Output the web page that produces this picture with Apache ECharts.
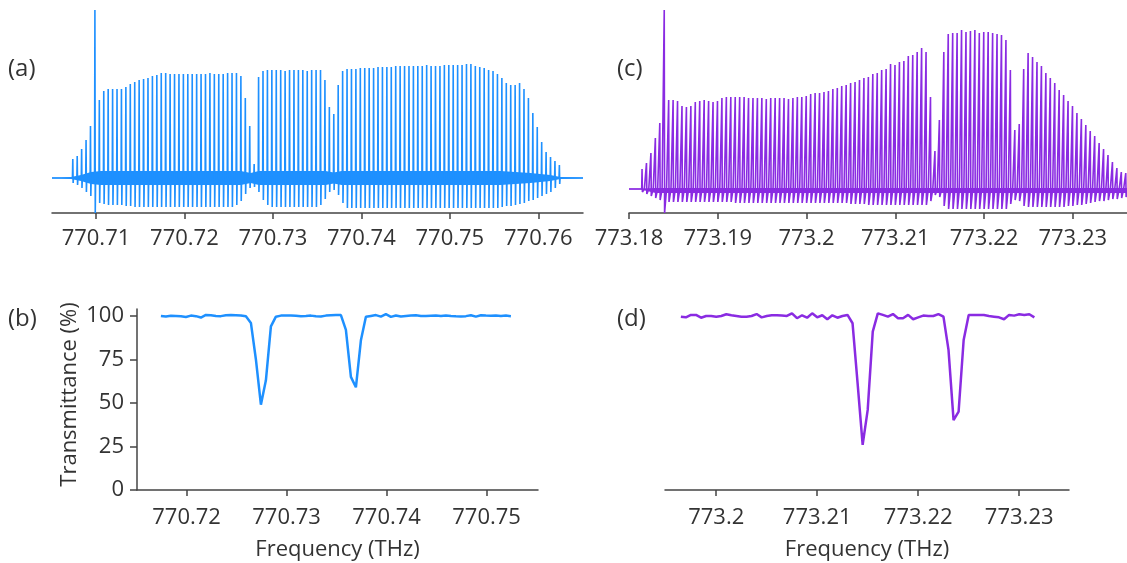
<!DOCTYPE html>
<html>
<head>
<meta charset="utf-8">
<script src="https://cdn.jsdelivr.net/npm/echarts@6.0.0/dist/echarts.min.js"></script>
<style>
html,body{margin:0;padding:0;background:#fff;}
#chart{width:1127px;height:563px;}
</style>
</head>
<body>
<div id="chart"></div>
<script>
// ---------------- DATA ----------------
// Panel (a): comb teeth (arbitrary units, 0 = baseline)
const combStepA = 0.0005;          // THz, tooth spacing
const combStartA = 770.70738;      // THz, first tooth
const topA = [
  19,22,29,38,52,168,78,87,89,89,
  89,89,91,94,96,98,99,100,102,103,
  105,105,104,104,104,104,104,104,104,104,
  104,105,104,104,104,105,105,105,102,80,
  52,14,101,107,108,108,108,108,107,108,
  108,108,108,107,108,108,108,98,71,64,
  93,107,109,109,109,110,110,110,110,111,
  111,111,111,112,112,112,112,112,112,112,
  113,112,112,112,113,113,113,113,113,114,
  114,112,111,110,108,107,104,100,95,93,
  93,95,89,80,65,51,36,26,21,17,13
];
const botA = [
  -5,-7,-10,-14,-18,-35,-25,-26,-27,-27,
  -27,-27,-28,-28,-29,-29,-29,-29,-29,-29,
  -29,-29,-29,-29,-29,-29,-29,-29,-29,-29,
  -29,-29,-29,-29,-29,-29,-29,-27,-23,-16,
  -10,-9,-14,-22,-27,-29,-29,-29,-29,-29,
  -29,-29,-29,-29,-29,-29,-27,-21,-14,-12,
  -17,-25,-30,-30,-30,-30,-30,-30,-30,-30,
  -30,-30,-30,-30,-30,-30,-30,-30,-30,-30,
  -30,-30,-30,-30,-30,-30,-30,-30,-30,-30,
  -30,-30,-30,-30,-30,-30,-30,-29,-28,-28,
  -27,-26,-25,-23,-22,-20,-18,-16,-14,-10,-6
];
// noise band envelope of (a)
const bandFreqA = [770.70503,770.70605,770.70718,770.70831,770.70944,770.71056,770.72637,770.72749,770.72840,770.73596,770.73687,770.73777,770.75571,770.75910,770.76135,770.76248,770.76505];
const bandHalfA = [0.6,0.6,1,3,6,7,7,5,7,7,5.5,7,7,5,3,1,0.6];

// Panel (c): comb teeth
const combStepC = 0.0005;
const combStartC = 773.18147;
const topC = [
  20,26,36,51,66,179,89,89,88,83,
  82,83,87,88,89,88,87,88,91,92,
  92,92,92,92,91,91,91,91,90,91,
  91,91,91,90,91,92,92,93,95,96,
  96,97,98,100,101,103,104,106,107,109,
  111,112,115,116,119,120,125,124,127,128,
  133,134,137,141,137,92,38,69,137,155,
  156,156,159,157,158,159,156,157,157,156,
  155,154,149,119,59,65,120,136,132,127,
  123,116,111,106,99,94,88,83,76,70,
  64,58,53,46,40,34,27,21,17,16
];
const botC = [
  -3,-5,-7,-9,-11,-24,-13,-13,-13,-13,
  -13,-13,-13,-13,-13,-13,-13,-13,-13,-13,
  -13,-14,-14,-14,-14,-14,-14,-14,-14,-14,
  -14,-14,-14,-14,-14,-14,-14,-14,-14,-14,
  -14,-14,-14,-14,-14,-14,-14,-15,-15,-15,
  -15,-16,-16,-16,-16,-16,-16,-16,-16,-16,
  -16,-16,-16,-16,-16,-12,-6,-8,-17,-20,
  -20,-20,-20,-20,-20,-20,-20,-20,-20,-20,
  -20,-20,-20,-15,-11,-12,-17,-18,-18,-18,
  -18,-18,-18,-18,-18,-18,-17,-17,-16,-16,
  -15,-14,-13,-12,-12,-11,-10,-10,-9,-8
];
// thin base band of (c)
const bandFreqC = [773.18,773.1813,773.1830,773.2361];
const bandHiC = [0.5,0.5,1,1];
const bandLoC = [-0.5,-0.5,-4,-4];

// Panel (b): transmittance (%)
const stepB = 0.0005;
const startB = 770.71743;
const transB = [
  100.0,99.7,100.1,100.0,99.8,99.4,100.2,99.9,99.1,100.6,
  100.4,100.0,99.9,100.4,100.5,100.4,100.3,99.8,96,75,
  49,63,94,99.6,100.2,100.3,100.2,100.1,99.9,100.0,
  100.2,99.8,99.7,100.2,100.4,100.5,100.5,92,65,59,
  86,99.5,100.0,100.5,99.6,101.0,99.5,100.3,99.7,100.0,
  100.3,100.4,100.0,100.0,100.1,100.2,100.0,100.3,100.0,99.8,
  99.7,99.9,100.4,99.6,100.4,100.2,100.1,100.3,100.0,100.2,99.9
];
// Panel (d): transmittance (%)
const stepD = 0.0005;
const startD = 773.1965;
const transD = [
  99.6,99.2,100.6,100.6,99.0,100,100,99.6,100,101,
  100.4,100,99.6,99.6,100,101.1,99.2,100,100.4,100.4,
  100.2,100,101.5,98.7,100.4,99.0,101.5,99.2,100.4,98.1,
  100.4,99.0,100,100.6,95.8,61.3,25.9,46,91,101.5,
  100.6,99.6,101.1,98.7,98.7,100.6,98.1,99.2,100.2,100,
  100,101.1,99.6,80.5,40.2,45,86.2,100.6,100.6,100.6,
  100.6,100,99.6,99.2,98.1,100.6,100.2,101,100.6,101,99.2
];

// tick labels
const ticksA = [770.71,770.72,770.73,770.74,770.75,770.76];
const ticksC = [773.18,773.19,773.2,773.21,773.22,773.23];
const ticksB = [770.72,770.73,770.74,770.75];
const ticksD = [773.2,773.21,773.22,773.23];
const ticksT = [0,25,50,75,100];

// ---------------- STYLE ----------------
const FONT = 'Open Sans';
const BLUE = '#1E90FF';
const PURPLE = '#8A2BE2';
const AXC = '#444';
const TXT = '#333';

function combPath(start, step, tops, bots, xMin, xMax, eps, foot) {
  const pts = [[xMin, 0]];
  tops.forEach((t, k) => {
    const f = start + step * k;
    pts.push([f - eps, 0], [f, t], [f + eps, bots[k]]);
    if (foot) { pts.push([f + foot, bots[k]]); pts.push([f + foot + eps, 0]); }
    else pts.push([f + 2 * eps, 0]);
  });
  pts.push([xMax, 0]);
  return pts;
}
function seriesPts(start, step, vals) {
  return vals.map((v, i) => [start + step * i, v]);
}
const fmt = v => String(+(+v).toFixed(2));

function xAx(grid, min, max, ticks, name, margin) {
  return {
    type: 'value', gridIndex: grid, min: min, max: max,
    axisLine: { show: true, onZero: false, lineStyle: { color: AXC, width: 1.5 } },
    axisTick: { show: true, customValues: ticks, length: 6, lineStyle: { color: AXC, width: 1.5 } },
    axisLabel: { customValues: ticks, formatter: fmt, fontFamily: FONT, fontSize: 22, color: TXT, margin: margin },
    splitLine: { show: false },
    name: name || '', nameLocation: 'middle', nameGap: 49,
    nameTextStyle: { fontFamily: FONT, fontSize: 22, color: TXT }
  };
}

const xMinA = 770.70503, xMaxA = 770.76505;
const xMinC = 773.18, xMaxC = 773.23611;

function bandItem(freqs, hi, lo, color) {
  return function (params, api) {
    const up = freqs.map((f, j) => api.coord([f, hi[j]]));
    const dn = freqs.map((f, j) => api.coord([f, lo[j]])).reverse();
    return { type: 'polygon', shape: { points: up.concat(dn) }, style: { fill: color } };
  };
}

const option = {
  animation: false,
  backgroundColor: '#fff',
  grid: [
    { left: 52, top: 10, width: 531, height: 203, containLabel: false, outerBoundsMode: 'none' },
    { left: 137, top: 309, width: 401, height: 181, containLabel: false, outerBoundsMode: 'none' },
    { left: 629, top: 10, width: 498, height: 203, containLabel: false, outerBoundsMode: 'none' },
    { left: 665, top: 309, width: 404, height: 181, containLabel: false, outerBoundsMode: 'none' }
  ],
  xAxis: [
    xAx(0, xMinA, xMaxA, ticksA, '', 15),
    xAx(1, 770.71504, 770.75514, ticksB, 'Frequency (THz)', 17),
    xAx(2, xMinC, xMaxC, ticksC, '', 15),
    xAx(3, 773.19493, 773.23493, ticksD, 'Frequency (THz)', 17)
  ],
  yAxis: [
    { type: 'value', gridIndex: 0, min: -35, max: 168, show: false },
    { type: 'value', gridIndex: 1, min: 0, max: 104,
      axisLine: { show: true, lineStyle: { color: AXC, width: 1.5 } },
      axisTick: { show: true, customValues: ticksT, length: 7, lineStyle: { color: AXC, width: 1.5 } },
      axisLabel: { customValues: ticksT, fontFamily: FONT, fontSize: 22, color: TXT, margin: 13 },
      splitLine: { show: false },
      name: 'Transmittance (%)', nameLocation: 'middle', nameGap: 56,
      nameTextStyle: { fontFamily: FONT, fontSize: 22, color: TXT, padding: [0, 0, 0, 10] } },
    { type: 'value', gridIndex: 2, min: -24, max: 179, show: false },
    { type: 'value', gridIndex: 3, min: 0, max: 104, show: false }
  ],
  series: [
    { type: 'custom', xAxisIndex: 0, yAxisIndex: 0, silent: true, clip: true, z: 1,
      data: [[bandFreqA[0], 0]],
      renderItem: bandItem(bandFreqA, bandHalfA, bandHalfA.map(h => -h), BLUE) },
    { type: 'custom', xAxisIndex: 2, yAxisIndex: 2, silent: true, clip: true, z: 1,
      data: [[bandFreqC[0], 0]],
      renderItem: bandItem(bandFreqC, bandHiC, bandLoC, PURPLE) },
    { type: 'line', xAxisIndex: 0, yAxisIndex: 0, symbol: 'none', z: 2,
      data: combPath(combStartA, combStepA, topA, botA, xMinA, xMaxA, 0.00004, 0),
      lineStyle: { color: BLUE, width: 1.6 } },
    { type: 'line', xAxisIndex: 2, yAxisIndex: 2, symbol: 'none', z: 2,
      data: combPath(combStartC, combStepC, topC, botC, xMinC, xMaxC, 0.00004, 0.00022),
      lineStyle: { color: PURPLE, width: 1.6 } },
    { type: 'line', xAxisIndex: 1, yAxisIndex: 1, symbol: 'none',
      data: seriesPts(startB, stepB, transB),
      lineStyle: { color: BLUE, width: 2.5 } },
    { type: 'line', xAxisIndex: 3, yAxisIndex: 3, symbol: 'none',
      data: seriesPts(startD, stepD, transD),
      lineStyle: { color: PURPLE, width: 2.5 } }
  ],
  graphic: [
    { type: 'text', left: 8, top: 57, style: { text: '(a)', font: '24px "Open Sans"', fill: TXT } },
    { type: 'text', left: 8, top: 307, style: { text: '(b)', font: '24px "Open Sans"', fill: TXT } },
    { type: 'text', left: 617, top: 57, style: { text: '(c)', font: '24px "Open Sans"', fill: TXT } },
    { type: 'text', left: 617, top: 307, style: { text: '(d)', font: '24px "Open Sans"', fill: TXT } }
  ]
};

const chart = echarts.init(document.getElementById('chart'), null, { renderer: 'canvas' });
chart.setOption(option);
</script>
</body>
</html>
